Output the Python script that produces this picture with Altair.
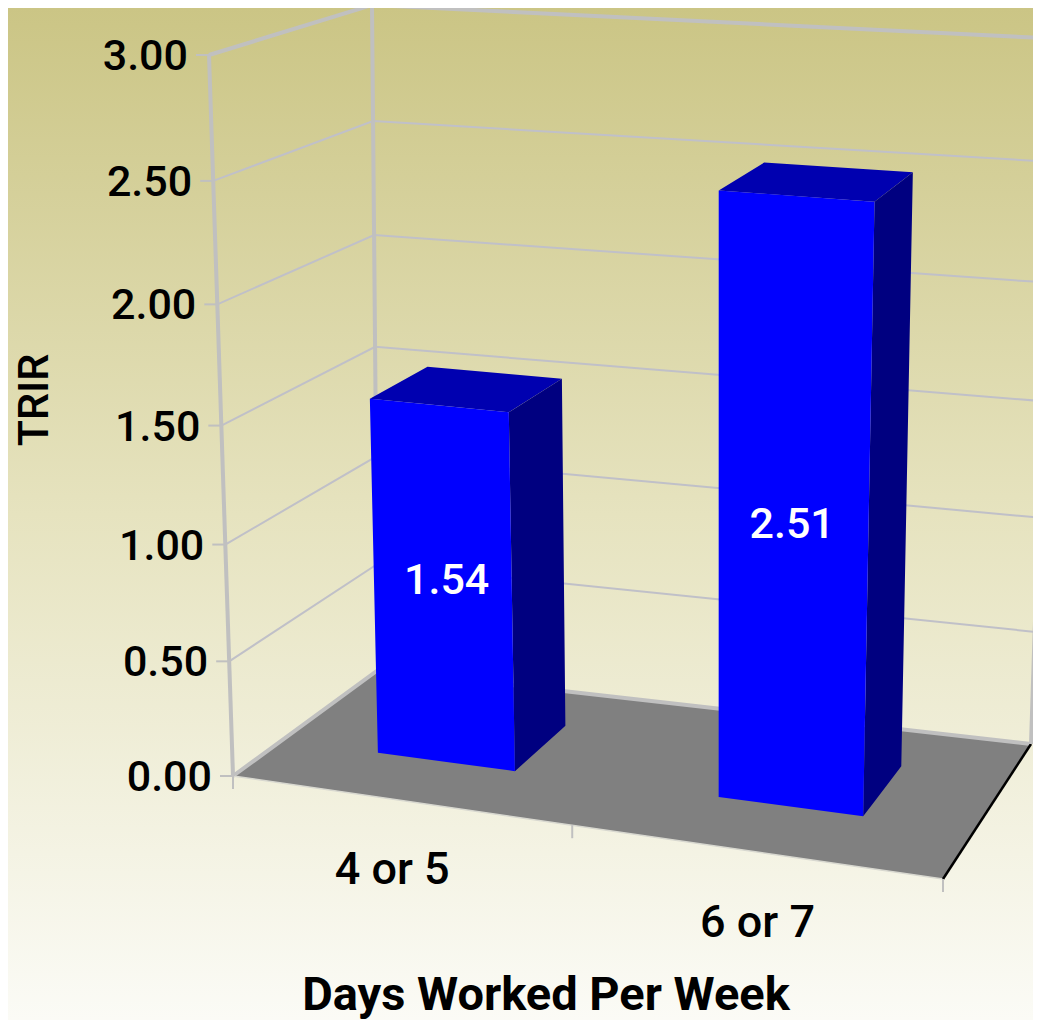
import altair as alt
import pandas as pd

# ---- data ----
categories = ["4 or 5", "6 or 7"]
trir = [1.54, 2.51]
y_ticks = [0.0, 0.5, 1.0, 1.5, 2.0, 2.5, 3.0]
y_labels = ["0.00", "0.50", "1.00", "1.50", "2.00", "2.50", "3.00"]
bar_u = [(0.159, 0.374), (0.667, 0.860)]   # extent along category axis (0-1)
bar_v = [(0.317, 0.712), (0.327, 0.716)]   # extent along depth axis (0-1)
category_u = [0.255, 0.77]
x_tick_u = [0, 0.52, 1]
bar_label_u = [0.2745, 0.7635]
bar_label_t = [0.795, 1.185]
x_title = "Days Worked Per Week"
y_title = "TRIR"

# ---- perspective model of the 3-D box ----
FLOOR = [(233, 776), (943, 879), (1031, 744), (378, 670)]   # FL FR BR BL
CEIL = [(209, 55), (971, 108), (1054, 38.5), (372, 5)]
K = 0.0576
W, H = 1025, 1012
FONT = "Roboto"
WEIGHT = 500


def homography(q):
    (x0, y0), (x1, y1), (x2, y2), (x3, y3) = q
    dx1, dx2, sx = x1 - x2, x3 - x2, x0 - x1 + x2 - x3
    dy1, dy2, sy = y1 - y2, y3 - y2, y0 - y1 + y2 - y3
    den = dx1 * dy2 - dx2 * dy1
    g = (sx * dy2 - dx2 * sy) / den
    h = (dx1 * sy - sx * dy1) / den
    a, b, c = x1 - x0 + g * x1, x3 - x0 + h * x3, x0
    d, e, f = y1 - y0 + g * y1, y3 - y0 + h * y3, y0

    def fn(u, v):
        w = g * u + h * v + 1
        return (a * u + b * v + c) / w, (d * u + e * v + f) / w
    return fn


floor_h, ceil_h = homography(FLOOR), homography(CEIL)


def project(u, v, t):
    tau = t / 3.0
    s = tau / (1 + K * (1 - tau))
    x0, y0 = floor_h(u, v)
    x1, y1 = ceil_h(u, v)
    return x0 + (x1 - x0) * s, y0 + (y1 - y0) * s


def polygon_rows(pts):
    """Turn a convex polygon into x / y / y2 rows for an area mark."""
    n = len(pts)
    xs = sorted({p[0] for p in pts})
    rows = []
    for x in xs:
        ys = []
        for i in range(n):
            (xa, ya), (xb, yb) = pts[i], pts[(i + 1) % n]
            if min(xa, xb) <= x <= max(xa, xb):
                if xa == xb:
                    ys += [ya, yb]
                else:
                    ys.append(ya + (yb - ya) * (x - xa) / (xb - xa))
        rows.append({"x": x, "y": min(ys), "y2": max(ys)})
    return rows


X = alt.X("x:Q", scale=alt.Scale(domain=[8, 8 + W], nice=False, zero=False), axis=None)
Y = alt.Y("y:Q", scale=alt.Scale(domain=[8 + H, 8], nice=False, zero=False), axis=None)


def area(pts, colour):
    return alt.Chart(pd.DataFrame(polygon_rows(pts))).mark_area(
        color=colour, interpolate="linear", opacity=1, clip=True
    ).encode(x=X, y=Y, y2="y2:Q")


def lines(segments, colour, width):
    rows = []
    for i, seg in enumerate(segments):
        for k, (x, y) in enumerate(seg):
            rows.append({"id": i, "k": k, "x": x, "y": y})
    return alt.Chart(pd.DataFrame(rows)).mark_line(
        color=colour, strokeWidth=width, clip=True
    ).encode(x=X, y=Y, detail="id:N", order="k:Q")


def labels(rows, colour, size, weight=WEIGHT, **kw):
    return alt.Chart(pd.DataFrame(rows)).mark_text(
        color=colour, fontSize=size, font=FONT, fontWeight=weight, baseline="middle", **kw
    ).encode(x=X, y=Y, text="text:N")


GRID = "#c0c0c8"
layers = []

# background gradient
layers.append(
    alt.Chart(pd.DataFrame({"a": [0]})).mark_rect(
        color=alt.Gradient(
            gradient="linear", x1=0, y1=0, x2=0, y2=1,
            stops=[
                alt.GradientStop(offset=0, color="#cbc585"),
                alt.GradientStop(offset=0.5, color="#e6e3bf"),
                alt.GradientStop(offset=1, color="#fbfbf6"),
            ],
        )
    ).encode(x=alt.value(0), x2=alt.value(W), y=alt.value(0), y2=alt.value(H))
)

# wall grid lines
grid = []
for t in y_ticks[1:-1]:
    grid.append([project(0, 0, t), project(0, 1, t), project(1, 1, t)])
layers.append(lines(grid, GRID, 2))
layers.append(lines([[project(0, 0, 3), project(0, 1, 3), project(1, 1, 3)]], "#c0c0c0", 4))

# floor
floor_pts = [project(0, 0, 0), project(1, 0, 0), project(1, 1, 0), project(0, 1, 0)]
layers.append(area(floor_pts, "#808080"))
layers.append(lines([[project(0, 0, 0), project(0, 1, 0), project(1, 1, 0)]], "#c0c0c0", 4))
layers.append(lines([[project(0, 0, 0), project(1, 0, 0)]], "#d8d8d0", 1.5))
layers.append(lines([[project(1, 0, 0), project(1, 1, 0)]], "#000000", 2.5))

# pillars and tick marks
layers.append(lines([[project(0, 0, 0), project(0, 0, 3)],
                     [project(0, 1, 0), project(0, 1, 3)],
                     [project(1, 1, 0), project(1, 1, 3)]], "#c0c0c0", 4))
ticks = []
for t in y_ticks:
    px, py = project(0, 0, t)
    ticks.append([(px - 13, py), (px, py)])
for u in x_tick_u:
    px, py = project(u, 0, 0)
    ticks.append([(px, py), (px, py + 13)])
layers.append(lines(ticks, "#c0c0c0", 2))

# bars
for (u0, u1), (v0, v1), val in zip(bar_u, bar_v, trir):
    layers.append(area([project(u0, v0, val), project(u1, v0, val),
                        project(u1, v1, val), project(u0, v1, val)], "#0000b0"))
    layers.append(area([project(u1, v0, 0), project(u1, v1, 0),
                        project(u1, v1, val), project(u1, v0, val)], "#000080"))
    layers.append(area([project(u0, v0, 0), project(u1, v0, 0),
                        project(u1, v0, val), project(u0, v0, val)], "#0000ff"))

# text
ylab = []
for t, s in zip(y_ticks, y_labels):
    px, py = project(0, 0, t)
    ylab.append({"x": px - 21, "y": py + 2, "text": s})
layers.append(labels(ylab, "#000000", 43, align="right"))

xlab = []
for u, s in zip(category_u, categories):
    px, py = project(u, 0, 0)
    xlab.append({"x": px, "y": py + 71, "text": s})
layers.append(labels(xlab, "#000000", 45, align="center"))

vlab = []
for u, (v0, v1), t, val in zip(bar_label_u, bar_v, bar_label_t, trir):
    px, py = project(u, v0, t)
    vlab.append({"x": px, "y": py, "text": f"{val:.2f}"})
layers.append(labels(vlab, "#ffffff", 43, align="center"))

layers.append(labels([{"x": 546, "y": 996, "text": x_title}], "#000000", 47, weight=700, align="center"))
layers.append(labels([{"x": 35, "y": 400, "text": y_title}], "#000000", 43, align="center", angle=270))

chart = alt.layer(*layers).properties(
    width=W, height=H, padding=0, autosize=alt.AutoSizeParams(type="none")
).configure_view(strokeWidth=0)

chart.save("out.html", embed_options={"renderer": "svg", "actions": False})
